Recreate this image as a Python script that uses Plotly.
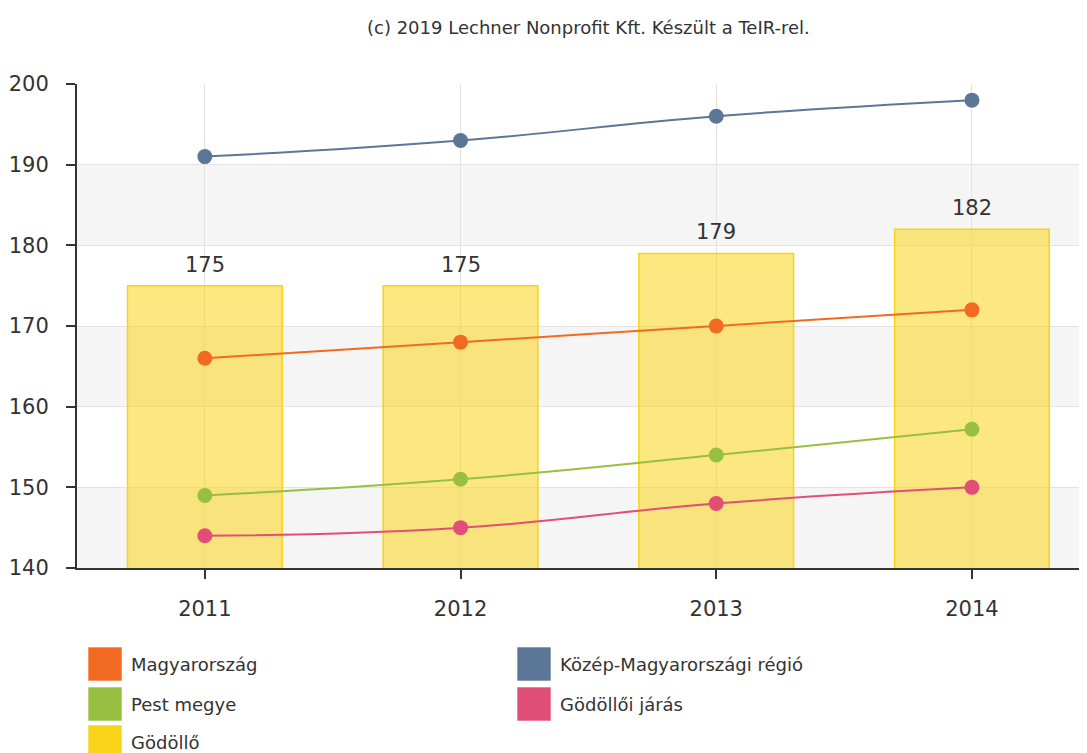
import plotly.graph_objects as go

years = ["2011", "2012", "2013", "2014"]
godollo = [175, 175, 179, 182]
magyarorszag = [166, 168, 170, 172]
kozep = [191, 193, 196, 198]
pest = [149, 151, 154, 157.2]
jaras = [144, 145, 148, 150]

title_text = "(c) 2019 Lechner Nonprofit Kft. Készült a TeIR-rel."
FONT = "DejaVu Sans, Verdana, sans-serif"

C_MAGY = "#F26A21"
C_KOZEP = "#5C7697"
C_PEST = "#97C041"
C_JARAS = "#E14F78"
C_GOD = "#F9D318"

OFF = 8  # page body margin
W, H = 1087 - OFF, 753 - OFF
ML, MR, MT, MB = 77 - OFF, 0, 84 - OFF, 753 - 568

fig = go.Figure()
fig.add_trace(go.Bar(
    x=years, y=godollo, name="Gödöllő", width=0.605,
    marker=dict(color="rgba(249,211,24,0.55)", line=dict(color=C_GOD, width=1.5)),
))
for name, vals, col in [("Magyarország", magyarorszag, C_MAGY),
                        ("Közép-Magyarországi régió", kozep, C_KOZEP),
                        ("Pest megye", pest, C_PEST),
                        ("Gödöllői járás", jaras, C_JARAS)]:
    fig.add_trace(go.Scatter(
        x=years, y=vals, name=name, mode="lines+markers",
        line=dict(color=col, width=2, shape="spline", smoothing=1.3),
        marker=dict(color=col, size=15),
    ))

shapes = []
for lo in (140, 160, 180):
    shapes.append(dict(type="rect", xref="paper", yref="y", x0=0, x1=1, y0=lo, y1=lo + 10,
                       fillcolor="#F5F5F5", line=dict(width=0), layer="below"))

legend_items = [
    ("Magyarország", C_MAGY, 88, 664),
    ("Pest megye", C_PEST, 88, 704),
    ("Gödöllő", C_GOD, 88, 742),
    ("Közép-Magyarországi régió", C_KOZEP, 517, 664),
    ("Gödöllői járás", C_JARAS, 517, 704),
]
pw, ph = W - ML - MR, H - MT - MB


def px_x(px):
    return (px - OFF - ML) / pw


def px_y(py):
    return (H - (py - OFF) - MB) / ph


annotations = [dict(text=title_text, xref="paper", yref="paper",
                    x=px_x(588), y=px_y(28), showarrow=False,
                    xanchor="center", yanchor="middle",
                    font=dict(size=18, color="#333333", family=FONT))]
# bar value labels (category index on the x axis)
for i, v in enumerate(godollo):
    annotations.append(dict(text=str(v), x=i, y=v, xref="x", yref="y", showarrow=False,
                            xanchor="center", yanchor="middle", yshift=21,
                            font=dict(size=21, color="#333333", family=FONT)))
for label, col, px, py in legend_items:
    shapes.append(dict(type="rect", xref="paper", yref="paper",
                       x0=px_x(px), x1=px_x(px + 34), y0=px_y(py + 17), y1=px_y(py - 17),
                       fillcolor=col, line=dict(color="rgba(255,255,255,0.6)", width=1)))
    annotations.append(dict(text=label, xref="paper", yref="paper",
                            x=px_x(px + 41), y=px_y(py), showarrow=False,
                            xanchor="left", yanchor="middle",
                            font=dict(size=18, color="#333333", family=FONT)))

fig.update_layout(
    width=W, height=H,
    margin=dict(l=ML, r=MR, t=MT, b=MB, pad=0),
    paper_bgcolor="white", plot_bgcolor="white",
    showlegend=False, bargap=0.4,
    font=dict(family=FONT, color="#333333"),
    shapes=shapes, annotations=annotations,
)
fig.update_xaxes(
    type="category", range=[-0.5, 3.45],
    showgrid=True, gridcolor="#E3E3E3", gridwidth=1,
    showline=True, linecolor="#333333", linewidth=2,
    ticks="outside", ticklen=9, tickcolor="#333333", tickwidth=2,
    tickfont=dict(size=21, color="#333333", family=FONT),
    ticklabelstandoff=12,
)
fig.update_yaxes(
    range=[140, 200], dtick=10, tick0=140,
    showgrid=True, gridcolor="#E3E3E3", gridwidth=1,
    showline=True, linecolor="#333333", linewidth=2,
    ticks="outside", ticklen=9, tickcolor="#333333", tickwidth=2,
    tickfont=dict(size=21, color="#333333", family=FONT),
    ticklabelstandoff=13,
    zeroline=False,
)

fig.write_html("out.html")
